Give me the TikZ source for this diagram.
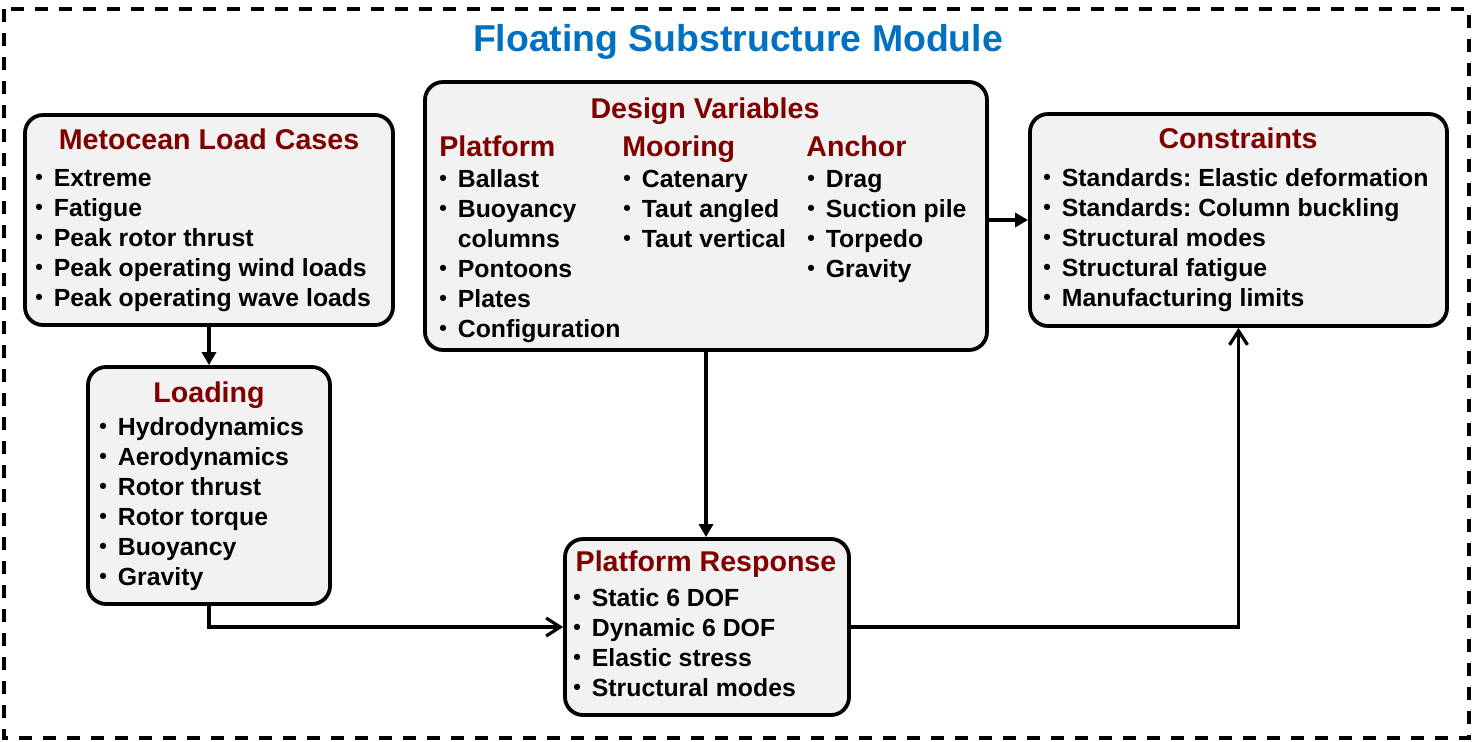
\documentclass[tikz,border=0pt]{standalone}
\usepackage{fontspec}
\setmainfont{Liberation Sans}
\usetikzlibrary{fit,arrows.meta}
\definecolor{moduleblue}{RGB}{0,112,192}
\definecolor{headred}{RGB}{128,0,0}
\definecolor{boxgray}{RGB}{242,242,242}
\newcommand{\bl}{\makebox[9.25pt][l]{\raisebox{0.05em}{\scalebox{0.87}{\textbullet}}}}
\newcommand{\nb}{\makebox[9.25pt]{}}
\frenchspacing
\begin{document}
\begin{tikzpicture}[x = 0.5pt, y = -0.5pt,
    box/.style = {draw, line width = 1.9pt, rounded corners = 9pt, fill = boxgray, inner sep = 0pt},
    boxhead/.style = {font = \bfseries\fontsize{14.3}{17}\selectfont, text = headred, inner sep = 0pt, anchor = base},
    subhead/.style = {boxhead, anchor = base west},
    items/.style = {font = \bfseries\fontsize{12.4}{15}\selectfont, inner sep = 0pt, anchor = base west},
    link/.style = {line width = 1.6pt, -{Triangle[length = 6.5pt, width = 7pt]}},
    openlink/.style = {line width = 1.6pt, -{Straight Barb[length = 7pt, width = 9pt]}}]
  \useasboundingbox (0, 0) rectangle (1472, 741);
  % module frame
  \draw[line width = 1.7pt, dash pattern = on 6.5pt off 5.5pt] (4, 9) rectangle (1469, 738);
  \node[font = \bfseries\fontsize{18.7}{22}\selectfont, text = moduleblue, inner sep = 0pt, anchor = base]
    (moduletitle) at (738, 51) {Floating Substructure Module};

  % metocean load cases
  \node[box, fit = {(25, 115) (393, 325)}] (metocean) {};
  \node[boxhead] (metocean-t) at (209, 149) {Metocean Load Cases};
  \node[items] (metocean-l) at (35, 186) {\begin{tabular}[t]{@{}l@{}}
    \bl Extreme\\ \bl Fatigue\\ \bl Peak rotor thrust\\
    \bl Peak operating wind loads\\ \bl Peak operating wave loads
  \end{tabular}};

  % loading
  \node[box, fit = {(88, 367) (330, 604)}] (loading) {};
  \node[boxhead] (loading-t) at (209, 402) {Loading};
  \node[items] (loading-l) at (99, 435) {\begin{tabular}[t]{@{}l@{}}
    \bl Hydrodynamics\\ \bl Aerodynamics\\ \bl Rotor thrust\\
    \bl Rotor torque\\ \bl Buoyancy\\ \bl Gravity
  \end{tabular}};

  % design variables
  \node[box, fit = {(425, 82) (987, 350)}] (design) {};
  \node[boxhead] (design-t) at (705, 118) {Design Variables};
  \node[subhead] (platform-t) at (439, 156) {Platform};
  \node[subhead] (mooring-t) at (622, 156) {Mooring};
  \node[subhead] (anchor-t) at (806, 156) {Anchor};
  \node[items] (platform-l) at (439, 187) {\begin{tabular}[t]{@{}l@{}}
    \bl Ballast\\ \bl Buoyancy\\ \nb columns\\ \bl Pontoons\\
    \bl Plates\\ \bl Configuration
  \end{tabular}};
  \node[items] (mooring-l) at (623, 187) {\begin{tabular}[t]{@{}l@{}}
    \bl Catenary\\ \bl Taut angled\\ \bl Taut vertical
  \end{tabular}};
  \node[items] (anchor-l) at (807, 187) {\begin{tabular}[t]{@{}l@{}}
    \bl Drag\\ \bl Suction pile\\ \bl Torpedo\\ \bl Gravity
  \end{tabular}};

  % constraints
  \node[box, fit = {(1030, 114) (1447, 326)}] (constraints) {};
  \node[boxhead] (constraints-t) at (1238, 148) {Constraints};
  \node[items] (constraints-l) at (1043, 186) {\begin{tabular}[t]{@{}l@{}}
    \bl Standards: Elastic deformation\\ \bl Standards: Column buckling\\
    \bl Structural modes\\ \bl Structural fatigue\\ \bl Manufacturing limits
  \end{tabular}};

  % platform response
  \node[box, fit = {(565, 539) (849, 715)}] (response) {};
  \node[boxhead] (response-t) at (706, 571) {Platform Response};
  \node[items] (response-l) at (573, 606) {\begin{tabular}[t]{@{}l@{}}
    \bl Static 6 DOF\\ \bl Dynamic 6 DOF\\ \bl Elastic stress\\ \bl Structural modes
  \end{tabular}};

  % connectors
  \draw[link] (metocean) -- (loading);
  \draw[link] (design.south) -- (design.south |- response.north);
  \draw[link] (design.east |- constraints.west) -- (constraints.west);
  \draw[openlink] (loading.south) |- (response.west);
  \draw[openlink] (response.east) -| (constraints.south);
\end{tikzpicture}
\end{document}
